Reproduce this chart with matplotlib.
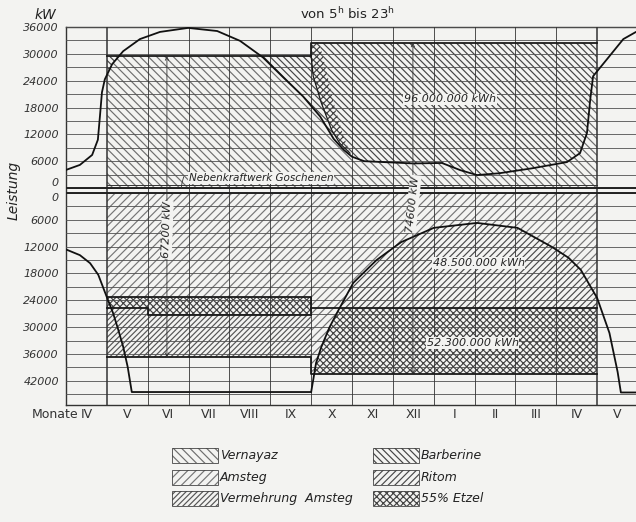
import numpy as np
import matplotlib
matplotlib.use('Agg')
import matplotlib.pyplot as plt
from matplotlib.patches import Rectangle, Polygon

plt.rcParams['font.family'] = 'DejaVu Sans'
plt.rcParams['hatch.linewidth'] = 0.85

BG = '#f3f3f1'
GAP = 1100          # space between the two zero lines (kW)

months = ['IV', 'V', 'VI', 'VII', 'VIII', 'IX', 'X', 'XI', 'XII',
          'I', 'II', 'III', 'IV', 'V']

up_ticks = [0, 6000, 12000, 18000, 24000, 30000, 36000]
lo_ticks = [0, 6000, 12000, 18000, 24000, 30000, 36000, 42000]

# upper half: load curve von 5h bis 23h
dem_up_m = [0, 0.34, 0.64, 0.78, 0.83, 0.88, 0.95, 1.13, 1.40, 1.81, 2.30,
            2.99, 3.70, 4.26, 4.82, 5.31, 5.80, 6.22, 6.55, 6.8, 7.0, 7.3,
            8.5, 9.2, 9.65, 10.06, 10.6, 11.4, 12.26, 12.58, 12.75, 12.83,
            12.9, 13.24, 13.64, 13.95]
dem_up_v = [4050, 5170, 7400, 10800, 16000, 21400, 24300, 27700, 30600,
            33300, 34900, 35800, 35100, 32900, 29200, 24800, 20500, 16000,
            11000, 8500, 7000, 6000, 5500, 5600, 4000, 2900, 3300, 4400,
            5800, 7800, 12300, 19800, 25000, 28800, 33300, 34900]

# installed capacity, upper half
cap_up_m = [1, 6, 6, 13]
cap_up_v = [29500, 29500, 32500, 32500]

# Etzel wedge in upper half
etz_m = [6.0, 6.2, 6.38, 6.58, 6.78, 6.95, 6.7, 6.5, 6.25, 6.05, 6.0]
etz_v = [32500, 32500, 26000, 18000, 12000, 7800, 10000, 13000, 19000,
         25000, 29500]

goesch_v = 700

# lower half: load curve
dem_lo_m = [0.02, 0.34, 0.59, 0.79, 1.0, 1.15, 1.28, 1.40, 1.51, 1.61, 6.0]
dem_lo_v = [12700, 13900, 15700, 18300, 23300, 26800, 30600, 34400, 38900,
            44500, 44500]
arch_m = [6.0, 6.05, 6.12, 6.25, 6.45, 6.65, 7.03, 7.6, 8.2, 9.0, 10.06,
          11.05, 11.9, 12.3, 12.6, 13.0, 13.3, 13.5, 13.58, 13.95]
arch_v = [44500, 41800, 38000, 34400, 30000, 26500, 20100, 15000, 11000,
          7800, 6700, 7800, 12100, 14500, 17200, 23500, 31300, 40000, 44600,
          44600]

# lower half levels
sum_amsteg = 23300
sum_etzel_m = [1, 2, 2, 6]
sum_etzel_v = [25700, 25700, 27300, 27300]
sum_bottom = 36700
win_amsteg = 25700
win_bottom = 40500

legend_names = ['Vernayaz', 'Amsteg', 'Vermehrung  Amsteg',
                'Barberine', 'Ritom', '55% Etzel']

style = {
    'Vernayaz': ('\\' * 4, '#6e6e6e'),
    'Amsteg': ('/' * 4, '#767676'),
    'Vermehrung  Amsteg': ('/' * 6, '#555555'),
    'Barberine': ('\\' * 5, '#444444'),
    'Ritom': ('/' * 5, '#4a4a4a'),
    '55% Etzel': ('x' * 5, '#444444'),
}


def lo(v):
    return -(GAP + np.asarray(v, dtype=float))


def hpoly(ax, verts, name, z=1):
    h, c = style[name]
    p = Polygon(verts, closed=True, facecolor=BG, edgecolor=c, hatch=h,
                lw=0, zorder=z)
    ax.add_patch(p)
    return p


fig = plt.figure(figsize=(6.36, 5.22), dpi=100, facecolor=BG)
ax = fig.add_axes([66 / 636, 1 - 405 / 522, 570 / 636, 378 / 522])
ax.set_facecolor(BG)
ax.set_xlim(0, 13.95)
ax.set_ylim(-48500, 36000)

# ---- upper half
rect_up = [(1, 0)] + list(zip(cap_up_m, cap_up_v)) + [(13, 0)]
barb = hpoly(ax, rect_up, 'Barberine', 1)
vern = ax.fill_between(dem_up_m, 0, dem_up_v, facecolor=BG,
                       edgecolor=style['Vernayaz'][1],
                       hatch=style['Vernayaz'][0], lw=0, zorder=1.5)
vern.set_clip_path(barb)
hpoly(ax, list(zip(etz_m, etz_v)), '55% Etzel', 2)

# ---- lower half, V..IX
hpoly(ax, [(1, lo(0)), (6, lo(0)), (6, lo(sum_amsteg)), (1, lo(sum_amsteg))],
      'Amsteg')
band = [(1, lo(sum_amsteg)), (6, lo(sum_amsteg))] + \
    [(m, lo(v)) for m, v in zip(sum_etzel_m[::-1], sum_etzel_v[::-1])]
hpoly(ax, band, '55% Etzel')
verm = [(m, lo(v)) for m, v in zip(sum_etzel_m, sum_etzel_v)] + \
    [(6, lo(sum_bottom)), (1, lo(sum_bottom))]
hpoly(ax, verm, 'Vermehrung  Amsteg')

# ---- lower half, X..IV
hpoly(ax, [(6, lo(0)), (13, lo(0)), (13, lo(win_bottom)),
           (6, lo(win_bottom))], 'Amsteg')
inside = Polygon(list(zip(arch_m, lo(arch_v))) +
                 [(arch_m[-1], -60000), (arch_m[0], -60000)],
                 closed=True, transform=ax.transData)
rit = hpoly(ax, [(6, lo(0)), (13, lo(0)), (13, lo(win_amsteg)),
                 (6, lo(win_amsteg))], 'Ritom', 1.5)
rit.set_clip_path(inside)
etz = hpoly(ax, [(6, lo(win_amsteg)), (13, lo(win_amsteg)),
                 (13, lo(win_bottom)), (6, lo(win_bottom))], '55% Etzel', 1.5)
etz.set_clip_path(inside)

# ---- grid
gk = dict(color='#505050', lw=0.6, zorder=3)
for v in range(0, 36001, 3000):
    ax.axhline(v, **gk)
for v in range(0, 45001, 3000):
    ax.axhline(lo(v), **gk)
for m in range(1, 14):
    ax.axvline(m, color='#333333', lw=1.1 if m in (1, 13) else 0.6,
               zorder=3)
ax.axhline(0, color='#222222', lw=1.4, zorder=4)
ax.axhline(lo(0), color='#222222', lw=1.4, zorder=4)
ax.plot([1, 13], [goesch_v, goesch_v], color='#333333', lw=0.7, zorder=4)

# ---- outlines
ok = dict(color='#1a1a1a', lw=1.3, zorder=4)
ax.plot(cap_up_m, cap_up_v, **ok)
ax.plot([1, 6, 6], lo([sum_amsteg, sum_amsteg, sum_etzel_v[-1]]), **ok)
ax.plot(sum_etzel_m, lo(sum_etzel_v), **ok)
ax.plot([1, 6, 6, 13], lo([sum_bottom, sum_bottom, win_bottom, win_bottom]),
        **ok)
ax.plot([6, 13], lo([win_amsteg, win_amsteg]), **ok)
ax.plot(etz_m[5:], etz_v[5:], color='#1a1a1a', lw=0.9, zorder=4)

# ---- load curves
ck = dict(color='#111111', lw=1.3, zorder=5, solid_capstyle='round')
ax.plot(dem_up_m, dem_up_v, **ck)
ax.plot(dem_lo_m, lo(dem_lo_v), **ck)
ax.plot(arch_m, lo(arch_v), **ck)

# ---- labels inside
tk = dict(style='italic', fontsize=8, color='#222222', zorder=6,
          ha='center', va='center')
box = dict(facecolor=BG, edgecolor='none', pad=0.6)
ax.text(9.4, 19800, '96.000.000 kWh', bbox=box, **tk)
ax.text(10.1, lo(15700), '48.500.000 kWh', bbox=box, **tk)
ax.text(9.95, lo(33500), '52.300.000 kWh', bbox=box, **tk)
ax.text(3.0, 2300, 'Nebenkraftwerk Goschenen', style='italic', fontsize=7.5,
        color='#222222', ha='left', va='center', bbox=box, zorder=6)
ax.plot([2.88, 2.84, 2.82], [2500, 1200, 0], color='#333333', lw=0.6,
        zorder=6)

ak = dict(arrowstyle='<->', lw=0.6, color='#333333', shrinkA=0, shrinkB=0,
          mutation_scale=6)
ax.annotate('', xy=(2.47, 29500), xytext=(2.47, lo(sum_bottom)),
            arrowprops=ak, zorder=6)
ax.annotate('', xy=(8.49, 32500), xytext=(8.49, lo(win_bottom)),
            arrowprops=ak, zorder=6)
ax.text(2.47, lo(8300), '67200 kW', rotation=88, bbox=box, **tk)
ax.text(8.49, lo(2500), '74600 kW', rotation=84, bbox=box, **tk)

# ---- axes
for s in ['left', 'top', 'bottom']:
    ax.spines[s].set_linewidth(1.0)
    ax.spines[s].set_color('#333333')
ax.spines['right'].set_visible(False)
yt = list(up_ticks) + list(lo(lo_ticks))
ax.set_yticks(yt, [str(v) for v in up_ticks] + [str(v) for v in lo_ticks])
ax.set_xticks(np.arange(len(months)) + 0.5, months)
ax.tick_params(axis='y', length=0, pad=5, labelsize=8, labelcolor='#333333')
ax.tick_params(axis='x', length=0, pad=2, labelsize=9, labelcolor='#333333')
ylabs = ax.get_yticklabels()
for t in ylabs:
    t.set_style('italic')
ylabs[0].set_va('bottom')
ylabs[len(up_ticks)].set_va('top')

fig.text(45 / 636, 1 - 15 / 522, 'kW', style='italic', fontsize=10,
         ha='center', va='center', color='#222222')
fig.text(14 / 636, 1 - 190 / 522, 'Leistung', style='italic', fontsize=10,
         rotation=90, ha='center', va='center', color='#222222')
fig.text(347 / 636, 1 - 14 / 522, 'von 5$^{\\mathrm{h}}$ bis 23$^{\\mathrm{h}}$',
         fontsize=9.5, ha='center', va='center', color='#222222')
fig.text(32 / 636, 1 - 414 / 522, 'Monate', fontsize=9, ha='left',
         va='center', color='#333333')

# ---- legend
for i, name in enumerate(legend_names):
    col, row = divmod(i, 3)
    x0 = [172, 373][col]
    yc = [455.5, 477.5, 498.5][row]
    h, c = style[name]
    fig.add_artist(Rectangle((x0 / 636, 1 - (yc + 7.5) / 522), 46 / 636,
                             15 / 522, transform=fig.transFigure,
                             facecolor=BG, edgecolor=c, hatch=h, lw=0))
    fig.add_artist(Rectangle((x0 / 636, 1 - (yc + 7.5) / 522), 46 / 636,
                             15 / 522, transform=fig.transFigure,
                             facecolor='none', edgecolor='#444444', lw=0.6))
    fig.text((x0 + 48) / 636, 1 - yc / 522, name, style='italic',
             fontsize=9, ha='left', va='center', color='#222222')

fig.savefig('out.png', dpi=100, facecolor=BG)
